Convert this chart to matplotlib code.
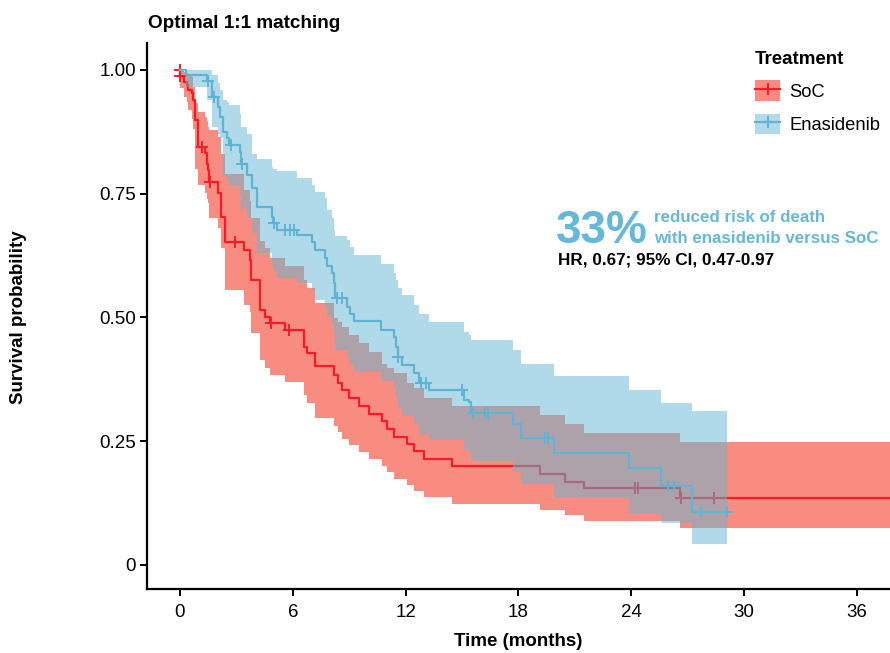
import numpy as np
import matplotlib
matplotlib.use("Agg")
import matplotlib.pyplot as plt
from matplotlib.patches import Patch
from matplotlib.lines import Line2D

plt.rcParams['font.family'] = ['Liberation Sans', 'DejaVu Sans']

# SoC arm: event times, KM estimate and 95% CI
soc_time = [0, 0.02, 0.2, 0.36, 0.44, 0.62, 0.71, 0.8, 0.98, 1.33, 1.42, 1.5, 1.55, 2.04, 2.2, 2.4,
            3.4, 3.7, 3.8, 4.27, 4.5, 4.8, 5.6, 6.58, 6.76, 7.2, 8.18, 8.4, 8.62, 8.98, 9.51,
            10.04, 10.76, 11.02, 11.38, 12.09, 12.44, 13.0, 14.49, 19.16, 20.5, 21.5, 26.6]
soc_surv = [1.0, 0.987, 0.976, 0.97, 0.96, 0.953, 0.94, 0.899, 0.845, 0.832, 0.81, 0.798, 0.774,
            0.751, 0.704, 0.653, 0.636, 0.616, 0.576, 0.515, 0.50, 0.488, 0.475, 0.441, 0.428,
            0.401, 0.384, 0.367, 0.354, 0.337, 0.321, 0.306, 0.29, 0.275, 0.259, 0.244, 0.231,
            0.215, 0.199, 0.184, 0.168, 0.155, 0.136]
soc_upper = [1.0, 0.998, 0.995, 0.993, 0.99, 0.985, 0.965, 0.933, 0.915, 0.906, 0.896, 0.885, 0.879,
             0.865, 0.83, 0.79, 0.758, 0.735, 0.70, 0.655, 0.64, 0.62, 0.605, 0.575, 0.56,
             0.53, 0.498, 0.49, 0.481, 0.465, 0.448, 0.431, 0.407, 0.397, 0.387, 0.367, 0.357,
             0.337, 0.321, 0.303, 0.285, 0.267, 0.249]
soc_lower = [1.0, 0.963, 0.945, 0.935, 0.92, 0.9, 0.88, 0.80, 0.768, 0.751, 0.74, 0.731, 0.70,
             0.68, 0.64, 0.556, 0.525, 0.512, 0.468, 0.414, 0.397, 0.384, 0.37, 0.343, 0.327,
             0.296, 0.28, 0.269, 0.254, 0.242, 0.229, 0.215, 0.199, 0.188, 0.174, 0.162, 0.15,
             0.138, 0.123, 0.112, 0.1, 0.088, 0.074]
soc_end = 38.5
soc_censor = [0, 0.02, 1.16, 1.6, 2.93, 4.82, 5.78, 24.2, 24.35, 26.67, 28.4]

# Enasidenib arm
ena_time = [0, 0.3, 1.42, 1.69, 2.04, 2.13, 2.3, 2.48, 2.6, 3.19, 3.24, 3.55, 3.82, 4.08, 4.88,
            4.95, 5.16, 6.2, 7.0, 7.2, 7.73, 7.8, 8.09, 8.18, 8.27, 8.89, 9.04, 9.24, 10.67,
            11.38, 11.5, 11.6, 11.8, 12.44, 12.7, 13.24, 15.1, 15.38, 15.47, 17.7, 18.15, 19.9,
            23.9, 25.6, 27.25]
ena_surv = [1.0, 0.99, 0.978, 0.946, 0.926, 0.906, 0.875, 0.862, 0.848, 0.835, 0.81, 0.788, 0.761,
            0.724, 0.704, 0.69, 0.677, 0.667, 0.653, 0.636, 0.62, 0.603, 0.589, 0.569, 0.539,
            0.522, 0.508, 0.492, 0.475, 0.461, 0.44, 0.421, 0.404, 0.388, 0.367, 0.353, 0.333,
            0.33, 0.308, 0.285, 0.257, 0.227, 0.195, 0.16, 0.108]
ena_upper = [1.0, 1.0, 1.0, 0.99, 0.973, 0.96, 0.94, 0.935, 0.929, 0.912, 0.885, 0.87, 0.83,
             0.82, 0.805, 0.80, 0.795, 0.781, 0.768, 0.754, 0.741, 0.717, 0.70, 0.677, 0.665,
             0.657, 0.643, 0.626, 0.609, 0.59, 0.575, 0.559, 0.545, 0.525, 0.508, 0.49, 0.471,
             0.465, 0.455, 0.434, 0.406, 0.382, 0.354, 0.327, 0.311]
ena_lower = [1.0, 0.966, 0.94, 0.885, 0.87, 0.862, 0.785, 0.775, 0.765, 0.745, 0.72, 0.70, 0.67,
             0.63, 0.61, 0.595, 0.58, 0.57, 0.555, 0.535, 0.52, 0.50, 0.485, 0.465, 0.435,
             0.42, 0.405, 0.39, 0.372, 0.357, 0.337, 0.318, 0.30, 0.285, 0.265, 0.252, 0.232,
             0.228, 0.21, 0.188, 0.164, 0.135, 0.104, 0.084, 0.042]
ena_end = 29.1
ena_censor = [1.5, 1.8, 2.7, 3.3, 5.0, 5.6, 5.87, 6.04, 8.36, 8.62, 11.62, 12.8, 13.07, 15.0,
              15.6, 16.23, 16.4, 19.4, 19.6, 25.97, 26.27, 27.7, 29.1]

x_ticks = [0, 6, 12, 18, 24, 30, 36]
y_ticks = [0, 0.25, 0.50, 0.75, 1.00]
y_labels = ['0', '0.25', '0.50', '0.75', '1.00']

red = '#F81A24'
red_fill = '#F41A05'
blue = '#5FB4D4'
blue_fill = '#62B6D4'
note_blue = '#66B8D8'


def draw_arm(ax, t, s, lo, hi, t_end, cens, line_col, fill_col, z):
    t = np.append(t, t_end)
    s = np.append(s, s[-1])
    lo = np.append(lo, lo[-1])
    hi = np.append(hi, hi[-1])
    ax.fill_between(t, lo, hi, step='post', color=fill_col, alpha=0.5, linewidth=0, zorder=z)
    ax.step(t, s, where='post', color=line_col, lw=1.6, zorder=z + 1)
    idx = np.searchsorted(t, cens, side='right') - 1
    ax.plot(cens, s[idx], ls='none', marker='+', ms=9, mew=1.4, color=line_col, zorder=z + 1)


fig = plt.figure(figsize=(8.9, 6.53), dpi=100)
ax = fig.add_axes([147 / 890, 64 / 653, 743 / 890, 546 / 653])

draw_arm(ax, soc_time, soc_surv, soc_lower, soc_upper, soc_end, soc_censor, red, red_fill, 1)
draw_arm(ax, ena_time, ena_surv, ena_lower, ena_upper, ena_end, ena_censor, blue, blue_fill, 3)

ax.set_xlim(-1.755, 37.77)
ax.set_ylim(-0.0485, 1.0545)
ax.set_xticks(x_ticks)
ax.set_yticks(y_ticks)
ax.set_yticklabels(y_labels)
ax.tick_params(labelsize=13.5, width=1.4, length=5, color='black', labelcolor='black')
ax.tick_params(axis='x', pad=6)
ax.tick_params(axis='y', pad=3)
for side in ['top', 'right']:
    ax.spines[side].set_visible(False)
for side in ['left', 'bottom']:
    ax.spines[side].set_linewidth(1.6)

fig.text(518 / 890, 1 - 642 / 653, 'Time (months)', fontsize=13.5, fontweight='bold',
         ha='center', va='center')
fig.text(19 / 890, 1 - 317 / 653, 'Survival probability', rotation=90, fontsize=13.5,
         fontweight='bold', ha='center', va='center')
fig.text(148 / 890, 1 - 28 / 653, 'Optimal 1:1 matching', fontsize=13.6, fontweight='bold',
         ha='left', va='baseline')

# annotation
fig.text(556 / 890, 1 - 243 / 653, '33%', fontsize=33, fontweight='bold', color=note_blue,
         ha='left', va='baseline')
fig.text(654 / 890, 1 - 222 / 653, 'reduced risk of death', fontsize=12.2, fontweight='bold',
         color=note_blue, ha='left', va='baseline')
fig.text(654 / 890, 1 - 243 / 653, 'with enasidenib versus SoC', fontsize=12.2, fontweight='bold',
         color=note_blue, ha='left', va='baseline')
fig.text(558 / 890, 1 - 265 / 653, 'HR, 0.67; 95% CI, 0.47-0.97', fontsize=12.3,
         fontweight='bold', color='black', ha='left', va='baseline')

# legend
handles = [
    (Patch(facecolor=red_fill, alpha=0.5, linewidth=0),
     Line2D([], [], color=red, lw=1.6, marker='+', ms=9, mew=1.4)),
    (Patch(facecolor=blue_fill, alpha=0.5, linewidth=0),
     Line2D([], [], color=blue, lw=1.6, marker='+', ms=9, mew=1.4)),
]
leg = ax.legend(handles, ['SoC', 'Enasidenib'], title='Treatment', loc='upper left',
                bbox_to_anchor=(740 / 890, 1 - 36 / 653), bbox_transform=fig.transFigure,
                frameon=False, fontsize=13.2, handlelength=1.4, handleheight=1.35,
                labelspacing=0.7, handletextpad=0.5, alignment='left', borderpad=0.3)
leg.get_title().set_fontweight('bold')
leg.get_title().set_fontsize(13.5)

fig.savefig('out.png', dpi=100)
